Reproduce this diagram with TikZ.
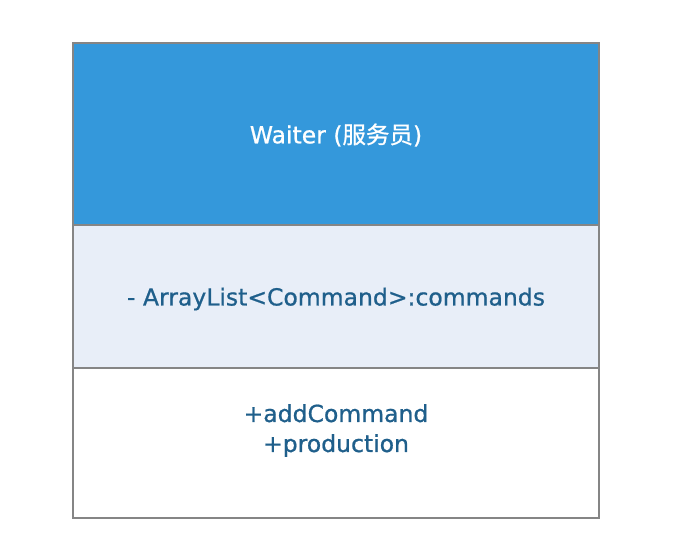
\documentclass[tikz,border=0pt]{standalone}
\usepackage{fontspec}
\setmainfont[FakeBold=0.8]{DejaVu Sans}
\newfontfamily\cjk[FakeBold=0.8]{Noto Sans CJK SC}
\usepackage{xcolor}
\usetikzlibrary{positioning}
\definecolor{headblue}{HTML}{3498DB}
\definecolor{paleblue}{HTML}{E8EEF8}
\definecolor{inkblue}{HTML}{1F5F8B}
\definecolor{edgegray}{HTML}{858585}

\tikzset{
  part/.style={draw=edgegray, line width=1.5pt, minimum width=526pt, inner sep=0pt, outer sep=0pt},
  member/.style={text=inkblue, font=\fontsize{23.5}{30}\selectfont, align=center}
}

\begin{document}
\begin{tikzpicture}[x=1pt, y=1pt]
        % frame
        \useasboundingbox (0,0) rectangle (678,558);

        % the three parts of the class box
        \node[part, fill=headblue, minimum height=182pt, anchor=north west] (head) at (73,515) {};
        \node[part, fill=paleblue, minimum height=143pt, below=0pt of head] (attrs) {};
        \node[part, fill=white, minimum height=150pt, below=0pt of attrs] (ops) {};

        % texts
        \node[text=white, font=\fontsize{23.5}{30}\selectfont, yshift=-1pt] (title) at (head.center) {Waiter ({\cjk 服务员})};
        \node[member, yshift=-2.5pt] (field) at (attrs.center) {- ArrayList<Command>:commands};
        \node[member, yshift=-62.5pt] (methods) at (ops.north) {+addCommand\\+production};
\end{tikzpicture}
\end{document}
